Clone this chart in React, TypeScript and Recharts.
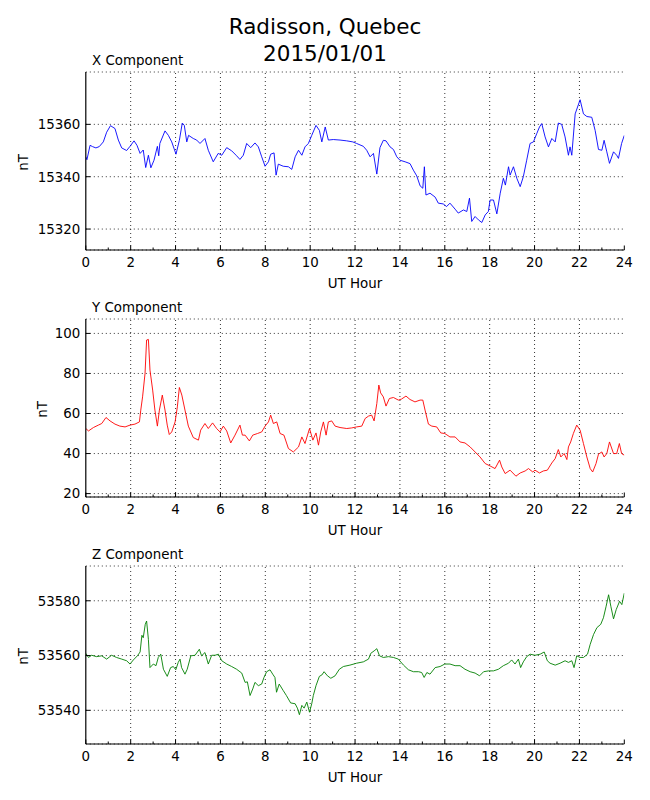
import React from 'react';
import { LineChart, Line, XAxis, YAxis, CartesianGrid, ReferenceLine } from 'recharts';

const FONT = '"DejaVu Sans", sans-serif';

// Hours (categories) and values
const xTimes = [0.00,0.05,0.19,0.30,0.45,0.60,0.78,0.93,1.10,1.30,1.45,1.60,1.82,1.97,2.15,2.28,2.42,2.56,2.67,2.79,2.90,3.04,3.19,3.25,3.30,3.53,3.68,3.83,4.02,4.17,4.30,4.39,4.50,4.58,4.79,4.94,5.09,5.31,5.46,5.68,5.90,6.06,6.28,6.50,6.72,6.87,7.02,7.17,7.35,7.54,7.69,7.84,7.99,8.14,8.24,8.39,8.48,8.58,8.80,9.03,9.18,9.33,9.48,9.63,9.77,9.92,10.07,10.26,10.41,10.52,10.67,10.81,11.03,11.33,11.63,11.90,12.07,12.37,12.52,12.67,12.82,12.97,13.11,13.26,13.38,13.56,13.71,13.86,14.00,14.23,14.45,14.60,14.75,14.90,15.02,15.09,15.16,15.34,15.57,15.71,15.93,16.08,16.23,16.46,16.60,16.83,16.98,17.10,17.20,17.35,17.50,17.65,17.80,17.94,18.02,18.17,18.32,18.47,18.61,18.70,18.84,18.91,19.06,19.21,19.36,19.50,19.65,19.80,19.95,20.10,20.22,20.32,20.47,20.62,20.77,20.92,21.06,21.21,21.36,21.51,21.58,21.66,21.81,22.03,22.18,22.33,22.55,22.70,22.85,23.00,23.10,23.22,23.34,23.52,23.66,23.74,23.88,24.00];
const xValues = [15347.6,15346.5,15352.0,15351.5,15351.0,15351.5,15353.3,15357.0,15359.5,15358.4,15354.0,15351.0,15350.0,15351.6,15353.7,15352.0,15348.9,15350.2,15343.5,15348.2,15343.4,15346.3,15351.6,15348.0,15352.7,15357.5,15355.8,15353.3,15348.6,15353.9,15360.5,15359.6,15353.3,15355.8,15354.6,15354.0,15352.7,15354.6,15350.1,15345.7,15348.9,15348.2,15351.1,15349.9,15348.0,15346.6,15348.2,15352.7,15351.1,15352.9,15351.4,15347.6,15344.0,15345.7,15348.6,15349.1,15340.6,15344.8,15344.0,15343.8,15342.8,15347.6,15350.1,15348.2,15351.4,15352.7,15355.8,15359.6,15357.7,15353.3,15359.0,15354.0,15354.2,15354.0,15353.7,15353.3,15352.7,15351.6,15350.1,15347.6,15348.9,15341.0,15351.1,15353.9,15353.7,15351.4,15350.4,15347.6,15346.3,15345.7,15345.0,15342.5,15340.3,15336.5,15335.6,15343.8,15333.0,15333.7,15332.2,15329.9,15329.6,15328.6,15329.9,15327.6,15326.1,15327.3,15326.7,15331.8,15322.9,15324.8,15323.5,15322.5,15325.4,15326.7,15331.1,15331.1,15325.8,15333.7,15339.4,15336.8,15343.8,15340.6,15343.8,15339.4,15336.2,15340.0,15346.3,15352.7,15353.3,15356.5,15359.0,15360.3,15355.2,15351.4,15354.6,15353.3,15360.5,15360.0,15355.2,15348.2,15351.4,15348.2,15364.0,15369.4,15364.0,15363.0,15362.7,15357.7,15350.4,15350.1,15353.9,15349.5,15345.1,15349.5,15348.2,15347.0,15352.7,15355.8];

const yTimes = [0.00,0.12,0.34,0.56,0.71,0.90,1.08,1.30,1.52,1.75,1.97,2.19,2.39,2.45,2.53,2.64,2.71,2.79,2.86,2.98,3.08,3.19,3.28,3.41,3.53,3.63,3.72,3.83,3.98,4.08,4.17,4.28,4.42,4.57,4.79,5.02,5.12,5.31,5.46,5.65,5.83,5.98,6.13,6.28,6.46,6.65,6.87,6.98,7.10,7.29,7.44,7.65,7.84,7.99,8.14,8.24,8.36,8.51,8.66,8.83,9.03,9.25,9.48,9.63,9.77,9.97,10.12,10.26,10.37,10.47,10.59,10.71,10.81,10.96,11.11,11.33,11.63,11.85,12.07,12.30,12.45,12.60,12.74,12.85,12.97,13.06,13.14,13.26,13.38,13.53,13.71,13.93,14.07,14.27,14.45,14.67,14.90,15.02,15.12,15.27,15.42,15.64,15.82,16.00,16.23,16.46,16.68,16.90,17.13,17.35,17.57,17.80,18.02,18.24,18.44,18.54,18.69,18.91,19.17,19.36,19.58,19.73,19.92,20.02,20.22,20.39,20.57,20.77,20.92,21.06,21.17,21.32,21.44,21.51,21.61,21.73,21.88,22.03,22.18,22.33,22.48,22.59,22.74,22.85,23.00,23.10,23.22,23.34,23.52,23.66,23.78,23.88,24.00];
const yValues = [52.5,51.3,53.0,54.2,55.0,58.0,56.3,54.7,53.7,53.3,54.2,54.7,55.8,61.7,68.3,80.0,96.7,97.0,81.7,71.7,61.7,53.7,61.7,69.2,61.7,54.2,49.5,50.8,55.8,63.3,73.0,69.2,61.7,53.7,48.0,46.7,51.7,55.0,52.5,55.3,52.5,50.8,53.7,51.3,45.3,49.2,54.2,49.2,49.2,46.3,49.2,50.0,50.8,53.7,55.8,59.2,55.0,55.8,50.0,49.2,42.5,40.8,43.3,48.3,45.0,52.5,46.7,50.3,44.2,50.8,55.8,49.2,55.8,56.3,53.7,53.0,52.5,52.8,53.3,53.7,57.5,58.7,59.2,56.3,65.0,74.2,70.3,68.3,63.7,67.5,68.0,66.7,67.2,68.7,67.0,65.8,66.7,66.7,61.7,54.7,53.7,53.3,50.3,50.0,48.3,48.3,45.8,45.3,43.3,40.8,38.3,35.0,33.8,32.5,36.7,33.3,30.0,31.7,28.7,30.3,31.3,32.5,30.8,31.7,30.3,31.3,31.7,35.3,37.5,42.0,38.3,40.0,37.0,43.3,45.8,50.0,54.2,51.7,45.0,38.3,32.5,30.8,35.0,39.7,40.8,38.3,40.0,45.8,40.0,40.0,45.0,40.0,39.2];

const zTimes = [0.00,0.12,0.26,0.48,0.71,0.93,1.15,1.37,1.60,1.82,1.97,2.12,2.30,2.42,2.50,2.56,2.65,2.71,2.79,2.86,3.01,3.13,3.23,3.34,3.46,3.63,3.78,3.90,4.01,4.12,4.20,4.27,4.42,4.52,4.68,4.87,5.06,5.16,5.31,5.46,5.61,5.76,5.91,6.06,6.28,6.50,6.72,6.95,7.10,7.20,7.32,7.44,7.54,7.69,7.84,7.94,8.06,8.21,8.33,8.43,8.50,8.62,8.80,8.94,9.13,9.33,9.43,9.52,9.63,9.73,9.85,9.97,10.07,10.14,10.26,10.41,10.52,10.62,10.77,10.92,11.11,11.30,11.48,11.77,12.07,12.37,12.60,12.70,12.85,12.97,13.09,13.26,13.49,13.71,13.93,14.16,14.38,14.60,14.83,14.97,15.08,15.20,15.34,15.57,15.79,16.00,16.23,16.46,16.68,16.90,17.13,17.35,17.55,17.73,17.95,18.17,18.39,18.61,18.84,18.98,19.13,19.28,19.38,19.50,19.65,19.80,20.02,20.25,20.43,20.57,20.69,20.92,21.14,21.36,21.51,21.66,21.76,21.88,22.03,22.18,22.36,22.48,22.63,22.78,22.95,23.07,23.19,23.30,23.40,23.52,23.64,23.79,23.89,24.00];
const zValues = [53560.8,53559.3,53560.1,53559.6,53559.9,53558.7,53560.1,53559.3,53558.7,53558.1,53556.9,53558.4,53559.9,53561.3,53567.4,53566.5,53571.4,53572.6,53565.9,53555.6,53556.9,53556.3,53559.3,53560.5,53555.0,53552.4,53555.6,53556.0,53554.8,53557.5,53558.7,53555.6,53553.2,53555.0,53559.9,53560.1,53562.3,53559.9,53561.1,53556.9,53560.1,53560.1,53560.5,53558.1,53556.9,53556.0,53555.0,53553.6,53550.2,53550.4,53545.4,53547.8,53550.2,53549.0,53549.6,53552.0,53554.1,53554.8,53553.2,53552.0,53546.6,53549.6,53547.2,53545.4,53542.7,53542.4,53540.8,53538.4,53541.8,53540.8,53543.0,53539.3,53542.4,53545.4,53549.0,53552.4,53552.9,53554.1,53552.6,53551.7,53552.6,53555.0,53556.0,53556.5,53557.2,53557.7,53558.7,53560.8,53561.7,53562.5,53559.9,53559.3,53559.6,53559.3,53558.7,53556.5,53554.8,53554.1,53554.1,53553.8,53552.0,53553.8,53553.2,53555.6,53556.0,53556.9,53556.9,53556.3,53556.3,53555.0,53554.1,53553.6,53552.6,53554.1,53554.4,53554.4,53555.0,53556.3,53557.2,53558.4,53556.9,53558.7,53555.6,53557.7,53559.6,53560.5,53560.1,53560.5,53561.3,53558.1,53557.2,53556.5,53557.2,53558.1,53557.5,53558.1,53555.6,53559.9,53559.3,53559.3,53560.5,53564.1,53567.7,53570.2,53571.4,53573.8,53578.0,53582.2,53578.0,53573.4,53576.8,53579.8,53578.6,53582.8];

const hourTicks = [0,1,2,3,4,5,6,7,8,9,10,11,12,13,14,15,16,17,18,19,20,21,22,23,24];
const gridHours = [2,4,6,8,10,12,14,16,18,20,22];
const xTickValues = [15320, 15340, 15360];
const yTickValues = [20, 40, 60, 80, 100];
const zTickValues = [53540, 53560, 53580];

const toData = (ts: number[], vs: number[]) => ts.map((t, i) => ({ t, v: vs[i] }));

const panels = [
  { key: 'x', title: 'X Component', top: 72, color: '#0000ff', data: toData(xTimes, xValues), domain: [15312, 15380], ticks: xTickValues, nTx: 28.3 },
  { key: 'y', title: 'Y Component', top: 319, color: '#ff0000', data: toData(yTimes, yValues), domain: [18.3, 107.2], ticks: yTickValues, nTx: 46.7 },
  { key: 'z', title: 'Z Component', top: 566, color: '#008000', data: toData(zTimes, zValues), domain: [53527.7, 53592.7], ticks: zTickValues, nTx: 28.3 },
];

const PLOT_H = 178;
const PLOT_LEFT = 85.8;
const PLOT_RIGHT = 624.3;
const MAJOR = 4.5;
const MINOR = 2.5;

function BottomTick(props: any) {
  const { x, y, payload } = props;
  const v = payload.value;
  const major = v % 2 === 0;
  return (
    <g>
      <line x1={x} x2={x} y1={y} y2={y - (major ? MAJOR : MINOR)} stroke="#000" strokeWidth={1} />
      {major && (
        <text x={x} y={y + 16.7} textAnchor="middle" fontSize={13.4} fontFamily={FONT} fill="#000">{v}</text>
      )}
    </g>
  );
}

function TopTick(props: any) {
  const { x, y, payload } = props;
  const major = payload.value % 2 === 0;
  return <line x1={x} x2={x} y1={y} y2={y + (major ? MAJOR : MINOR)} stroke="#000" strokeWidth={1} />;
}

function LeftTick(props: any) {
  const { x, y, payload } = props;
  return (
    <g>
      <line x1={x} x2={x + MAJOR} y1={y} y2={y} stroke="#000" strokeWidth={1} />
      <text x={x - 5.5} y={y} dy="0.36em" textAnchor="end" fontSize={13.4} fontFamily={FONT} fill="#000">{payload.value}</text>
    </g>
  );
}

function RightTick(props: any) {
  const { x, y } = props;
  return <line x1={x} x2={x - MAJOR} y1={y} y2={y} stroke="#000" strokeWidth={1} />;
}

function Panel(p: any) {
  const MT = 30;
  const axisLine = { stroke: '#000', strokeWidth: 1.2 };
  return (
    <div style={{ position: 'absolute', left: 0, top: p.top - MT }}>
      <LineChart width={650} height={MT + PLOT_H + 50} data={p.data} margin={{ top: MT, right: 650 - PLOT_RIGHT, bottom: 0, left: 0 }}>
        <CartesianGrid vertical={false} stroke="#000" strokeDasharray="1 3" strokeWidth={0.8} />
        {gridHours.map((h) => (
          <ReferenceLine key={h} x={h} stroke="#000" strokeDasharray="1 3" strokeWidth={0.8} />
        ))}
        <XAxis dataKey="t" type="number" domain={[0, 24]} ticks={hourTicks} interval={0} allowDataOverflow
          tickSize={0} tickMargin={0} tickLine={false} tick={(tp: any) => <BottomTick {...tp} />} height={50} axisLine={axisLine} />
        <XAxis xAxisId="top" orientation="top" dataKey="t" type="number" domain={[0, 24]} ticks={hourTicks} interval={0} allowDataOverflow
          tickSize={0} tickMargin={0} tickLine={false} tick={(tp: any) => <TopTick {...tp} />} height={0} axisLine={axisLine} />
        <YAxis type="number" domain={p.domain} ticks={p.ticks} interval={0} allowDataOverflow
          tickSize={0} tickMargin={0} tickLine={false} tick={(tp: any) => <LeftTick {...tp} />} width={PLOT_LEFT} axisLine={axisLine} />
        <YAxis yAxisId="right" orientation="right" type="number" domain={p.domain} ticks={p.ticks} interval={0} allowDataOverflow
          tickSize={0} tickMargin={0} tickLine={false} tick={(tp: any) => <RightTick {...tp} />} width={0} axisLine={axisLine} />
        <Line type="linear" dataKey="v" stroke={p.color} strokeWidth={0.9} dot={false} isAnimationActive={false} />
      </LineChart>
    </div>
  );
}

export default function App() {
  const cx = (PLOT_LEFT + PLOT_RIGHT) / 2;
  return (
    <div style={{ position: 'absolute', left: 0, top: 0, width: 650, height: 800, background: '#fff' }}>
      {panels.map((p) => (
        <Panel key={p.key} {...p} />
      ))}
      <svg width={650} height={800} style={{ position: 'absolute', left: 0, top: 0, pointerEvents: 'none' }}>
        <text x={325} y={34.3} textAnchor="middle" fontSize={21.5} fontFamily={FONT} fill="#000">Radisson, Quebec</text>
        <text x={325} y={60.7} textAnchor="middle" fontSize={21.5} fontFamily={FONT} fill="#000">2015/01/01</text>
        {panels.map((p) => (
          <g key={p.key}>
            <text x={92} y={p.top - 7} fontSize={13.4} fontFamily={FONT} fill="#000">{p.title}</text>
            <text x={cx} y={p.top + PLOT_H + 38} textAnchor="middle" fontSize={13.4} fontFamily={FONT} fill="#000">UT Hour</text>
            <text x={p.nTx} y={p.top + PLOT_H / 2 + 1.5} textAnchor="middle" fontSize={13.4} fontFamily={FONT} fill="#000"
              transform={`rotate(-90 ${p.nTx} ${p.top + PLOT_H / 2 + 1.5})`}>nT</text>
          </g>
        ))}
      </svg>
    </div>
  );
}
